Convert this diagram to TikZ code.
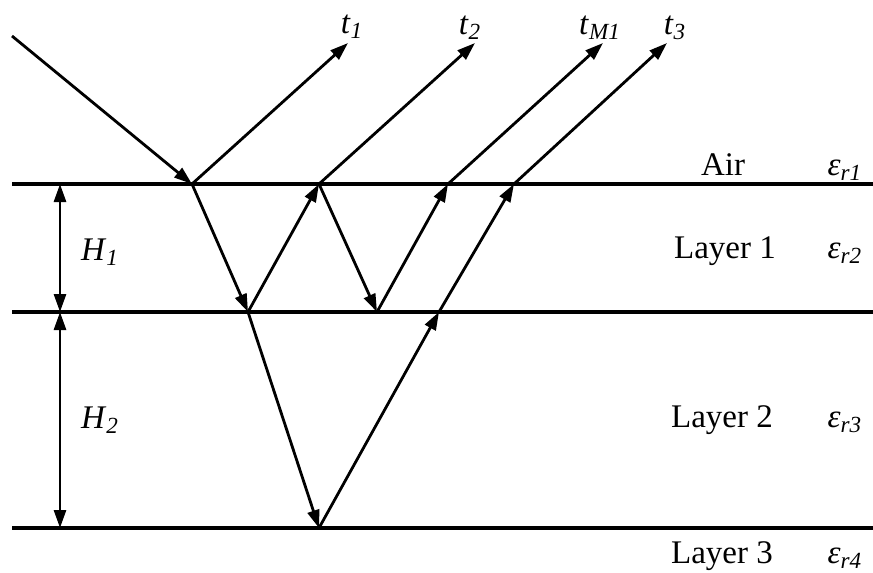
\documentclass[tikz,border=0pt]{standalone}
\usepackage{fontspec}
\setmainfont{Liberation Serif}
\usetikzlibrary{arrows.meta}

\newcommand{\lbl}[2]{\textit{#1}\textsubscript{\textit{#2}}}

\begin{document}
\begin{tikzpicture}[x=0.5pt, y=-0.5pt,
    ray/.style={line width=1.4pt, -{Triangle[length=9pt, width=6pt]}},
    depth/.style={line width=1.4pt, {Triangle[length=9pt, width=6pt]}-{Triangle[length=9pt, width=6pt]}},
    boundary/.style={line width=1.7pt},
    txt/.style={anchor=base, inner sep=0pt, font=\fontsize{16.5}{19}\selectfont}]

\useasboundingbox (0,0) rectangle (873,573);

\def\ya{184} % air / layer 1
\def\yb{312} % layer 1 / layer 2
\def\yc{528} % layer 2 / layer 3

% Boundaries
\coordinate (b1l) at (12,\ya);  \coordinate (b1r) at (873,\ya);
\coordinate (b2l) at (12,\yb);  \coordinate (b2r) at (873,\yb);
\coordinate (b3l) at (12,\yc);  \coordinate (b3r) at (873,\yc);
\draw[boundary] (b1l) -- (b1r);
\draw[boundary] (b2l) -- (b2r);
\draw[boundary] (b3l) -- (b3r);

% Hit points
\coordinate (src) at (12,36);
\coordinate (a1) at (192,\ya);
\coordinate (a2) at (319,\ya);
\coordinate (a3) at (448,\ya);
\coordinate (a4) at (514,\ya);
\coordinate (m1) at (248,\yb);
\coordinate (m2) at (377,\yb);
\coordinate (m3) at (439,\yb);
\coordinate (d1) at (319,\yc);

% Exit ends
\coordinate (e1) at (348,43);
\coordinate (e2) at (475,43);
\coordinate (e3) at (603,43);
\coordinate (e4) at (667,43);

% Incident ray
\draw[ray] (src) -- (a1);
% Layer 1 bounces
\draw[ray] (a1) -- (m1);
\draw[ray] (m1) -- (a2);
\draw[ray] (a2) -- (m2);
\draw[ray] (m2) -- (a3);
% Layer 2 path
\draw[ray] (m1) -- (d1);
\draw[ray] (d1) -- (m3);
\draw[ray] (m3) -- (a4);
% Transmitted rays
\draw[ray] (a1) -- (e1);
\draw[ray] (a2) -- (e2);
\draw[ray] (a3) -- (e3);
\draw[ray] (a4) -- (e4);

% Thickness arrows
\coordinate (h0) at (60,\ya);
\coordinate (h1) at (60,\yb);
\coordinate (h2) at (60,\yc);
\draw[depth] (h0) -- (h1);
\draw[depth] (h1) -- (h2);
\node[txt] (H1) at (100,260) {\lbl{H}{1}};
\node[txt] (H2) at (100,428) {\lbl{H}{2}};

% Ray labels
\node[txt] (t1) at (352,33) {\lbl{t}{1}};
\node[txt] (t2) at (470,34) {\lbl{t}{2}};
\node[txt] (tM1) at (600,34) {\lbl{t}{M1}};
\node[txt] (t3) at (675,34) {\lbl{t}{3}};

% Media labels
\node[txt] (air) at (723,175) {Air};
\node[txt] (lay1) at (725,258) {Layer 1};
\node[txt] (lay2) at (722,427) {Layer 2};
\node[txt] (lay3) at (722,563) {Layer 3};
\node[txt] (eps1) at (845,175) {\lbl{ε}{r1}};
\node[txt] (eps2) at (845,258) {\lbl{ε}{r2}};
\node[txt] (eps3) at (845,427) {\lbl{ε}{r3}};
\node[txt] (eps4) at (845,563) {\lbl{ε}{r4}};

\end{tikzpicture}
\end{document}
